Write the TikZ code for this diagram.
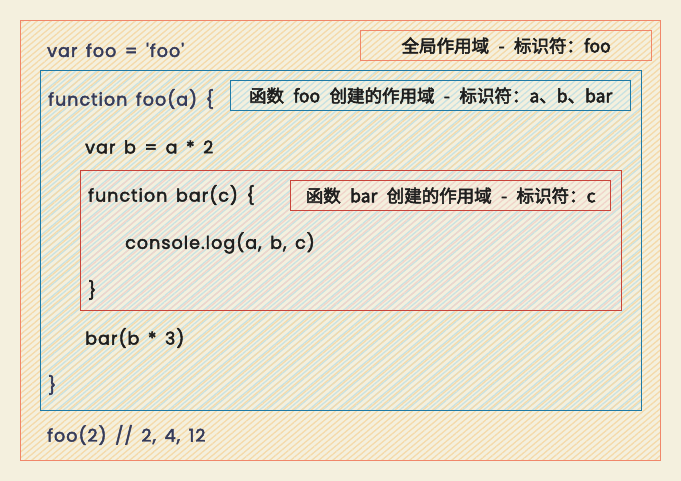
\documentclass[tikz,border=0pt]{standalone}
\usepackage{fontspec}
\setmainfont{Poppins}
\newfontfamily\code{Poppins}[LetterSpace=6,FakeBold=2.5,WordSpace=1.5]
\newfontfamily\cjk{Noto Sans CJK SC}[FakeBold=3,WordSpace=2.4]
\usetikzlibrary{patterns.meta}
\definecolor{bgc}{HTML}{F4F0DE}
\definecolor{hO}{HTML}{F4DAAA}
\definecolor{hB}{HTML}{C8E2E2}
\definecolor{hR}{HTML}{F1D4CA}
\definecolor{bO}{HTML}{F0876A}
\definecolor{bB}{HTML}{1F7AA6}
\definecolor{bR}{HTML}{C9443A}
\definecolor{navy}{HTML}{363B5A}
\definecolor{ink}{HTML}{1E1E1E}
\tikzset{
  hatchA/.style={pattern={Lines[angle=40,distance=4.5pt,line width=1.3pt]}, pattern color=#1},
  hatchB/.style={pattern={Lines[angle=40,distance=6pt,line width=1.2pt,xshift=2.5pt]}, pattern color=#1},
  region/.style={rectangle, anchor=north west, inner sep=0pt, line width=1.3pt},
  edge/.style={postaction={draw=#1}},
  codeO/.style={anchor=west, inner sep=0pt, font=\code\fontsize{17.5}{20}\selectfont, text=navy},
  codeI/.style={anchor=west, inner sep=0pt, font=\code\fontsize{17.5}{20}\selectfont, text=ink},
  lbl/.style={inner sep=0pt, font=\cjk\fontsize{17.5}{19}\selectfont, text=ink}
}
\begin{document}
\begin{tikzpicture}[x=1pt,y=-1pt]
\fill[bgc] (0,0) rectangle (681,481);
\useasboundingbox (0,0) rectangle (681,481);
% outer global scope
\node[region, fill=bgc, minimum width=640pt, minimum height=440pt,
  postaction={hatchA=hO}, edge=bO] (global) at (20,20) {};
% foo scope
\node[region, fill=bgc, minimum width=601pt, minimum height=340pt,
  postaction={hatchA=hB}, postaction={hatchB=hO}, edge=bB] (fooscope) at (40,70) {};
% bar scope
\node[region, fill=bgc, minimum width=541pt, minimum height=140pt,
  postaction={hatchA=hB}, postaction={hatchB=hR}, edge=bR] (barscope) at (80,170) {};
% labels
\node[region, fill=bgc, minimum width=291pt, minimum height=30pt,
  postaction={hatchA=hO}, edge=bO] (gl) at (360,30) {};
\node[lbl] (gltxt) at (gl.center) {全局作用域 - 标识符：foo};
\node[region, fill=bgc, minimum width=400pt, minimum height=30pt,
  postaction={hatchA=hB}, edge=bB] (fl) at (230,80) {};
\node[lbl] (fltxt) at (fl.center) {函数 foo 创建的作用域 - 标识符：a、b、bar};
\node[region, fill=bgc, minimum width=320pt, minimum height=30pt,
  postaction={hatchA=hR}, edge=bR] (bl) at (290,180) {};
\node[lbl] (bltxt) at (bl.center) {函数 bar 创建的作用域 - 标识符：c};
% code
\node[codeO] (c1) at (47,50) {var foo = 'foo'};
\node[codeO] (c2) at (48,99) {function foo(a) \{};
\node[codeI] (c3) at (85,147) {var b = a * 2};
\node[codeI] (c4) at (88,195) {function bar(c) \{};
\node[codeI] (c5) at (125,243) {console.log(a, b, c)};
\node[codeI] (c6) at (88,290) {\}};
\node[codeI] (c7) at (85,338) {bar(b * 3)};
\node[codeO] (c8) at (48,385) {\}};
\node[codeO] (c9) at (47,435) {foo(2) // 2, 4, 12};
\end{tikzpicture}
\end{document}
